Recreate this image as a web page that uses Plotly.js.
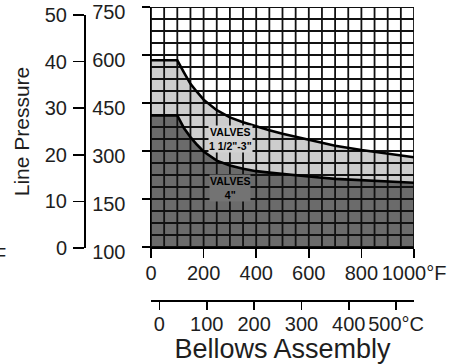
<!DOCTYPE html>
<html>
<head>
<meta charset="utf-8">
<script src="https://cdn.plot.ly/plotly-3.0.1.min.js"></script>
<style>html,body{margin:0;padding:0;background:#fff;}#chart{width:455px;height:364px;}</style>
</head>
<body>
<div id="chart"></div>
<script>
// Temperature (°F) sample points along the two limit curves
const tempF = [0, 100, 125, 150, 175, 200, 250, 300, 350, 400, 450, 500, 600, 700, 800, 900, 1000];
// Line pressure limit, valves 1 1/2"-3"
const pressureSmall = [38.9, 38.9, 36.4, 34.0, 32.3, 30.7, 28.5, 27.0, 26.0, 25.1, 24.3, 23.6, 22.4, 21.1, 20.2, 19.4, 18.7];
// Line pressure limit, valves 4"
const pressureLarge = [27.4, 27.4, 24.8, 22.9, 21.3, 19.9, 18.0, 17.0, 16.3, 15.8, 15.5, 15.2, 14.7, 14.2, 13.9, 13.6, 13.4];

const pressureTicks = [0, 10, 20, 30, 40, 50];
const outerTickText = ['0', '10', '20', '30', '40', '50'];
const innerTickText = ['100', '150', '300', '450', '600', '750'];
const fTicks = [0, 200, 400, 600, 800, 1000];
const fTickText = ['0', '200', '400', '600', '800', '1000°F'];
const cTicks = [0, 100, 200, 300, 400, 500];
const cTickText = ['0', '100', '200', '300', '400', '500°C'];

const labelSmall = 'VALVES<br>1 1/2"-3"';
const labelLarge = 'VALVES<br>4"';

const F_MIN = 0, F_MAX = 1000, P_MIN = 0, P_MAX = 50;
const GRID_DX = 50, GRID_DY = 2.5;

const gx = [], gy = [];
for (let t = F_MIN; t <= F_MAX + 1e-9; t += GRID_DX) { gx.push(t, t, null); gy.push(P_MIN, P_MAX, null); }
for (let p = P_MIN; p <= P_MAX + 1e-9; p += GRID_DY) { gx.push(F_MIN, F_MAX, null); gy.push(p, p, null); }

const toC = f => (f - 32) / 1.8;

const FONT = 'Liberation Sans, Arial, sans-serif';
const TXT = '#1e1e1e';
const H = 357; // paper height (364 - top margin)

const traces = [
  {x: tempF, y: pressureSmall, mode: 'lines', fill: 'tozeroy', fillcolor: '#cdcdcd',
   line: {width: 0, color: '#cdcdcd'}, hoverinfo: 'skip', showlegend: false},
  {x: tempF, y: pressureLarge, mode: 'lines', fill: 'tozeroy', fillcolor: '#6b6b6b',
   line: {width: 0, color: '#6b6b6b'}, hoverinfo: 'skip', showlegend: false},
  {x: gx, y: gy, mode: 'lines', line: {color: '#111', width: 1.8}, hoverinfo: 'skip', showlegend: false},
  {x: tempF, y: pressureSmall, mode: 'lines', line: {color: '#000', width: 2.6}, hoverinfo: 'skip', showlegend: false},
  {x: tempF, y: pressureLarge, mode: 'lines', line: {color: '#000', width: 2.6}, hoverinfo: 'skip', showlegend: false},
  {x: [F_MIN, F_MAX], y: [P_MIN, P_MAX], xaxis: 'x', yaxis: 'y2', mode: 'markers',
   marker: {opacity: 0}, hoverinfo: 'skip', showlegend: false},
  {x: [toC(F_MIN), toC(F_MAX)], y: [P_MIN, P_MAX], xaxis: 'x2', yaxis: 'y', mode: 'markers',
   marker: {opacity: 0}, hoverinfo: 'skip', showlegend: false}
];

const layout = {
  width: 455, height: 364,
  margin: {l: 0, r: 41, t: 7, b: 0},
  paper_bgcolor: '#fff', plot_bgcolor: 'rgba(0,0,0,0)',
  font: {family: FONT, color: TXT, size: 20},
  showlegend: false,
  xaxis: {
    domain: [151 / 414, 1], range: [F_MIN, F_MAX],
    tickvals: fTicks, ticktext: fTickText,
    showgrid: false, zeroline: false,
    showline: true, linecolor: '#000', linewidth: 1.5,
    ticks: 'outside', ticklen: 9, tickwidth: 1.5, tickcolor: '#000',
    ticklabeloverflow: 'allow', ticklabelstandoff: -2,
    tickfont: {size: 20, color: TXT}
  },
  xaxis2: {
    overlaying: 'x', anchor: 'free', position: 64 / H, side: 'bottom',
    range: [toC(F_MIN), toC(F_MAX)],
    tickvals: cTicks, ticktext: cTickText,
    showgrid: false, zeroline: false,
    showline: true, linecolor: '#000', linewidth: 1.5,
    ticks: 'outside', ticklen: 8, tickwidth: 1.5, tickcolor: '#000',
    ticklabeloverflow: 'allow', ticklabelstandoff: -3,
    tickfont: {size: 20, color: TXT},
    title: {text: 'Bellows Assembly', font: {size: 27, color: TXT}, standoff: 2}
  },
  yaxis: {
    domain: [117 / H, 1], range: [P_MIN, P_MAX],
    tickvals: pressureTicks, ticktext: innerTickText,
    showgrid: false, zeroline: false,
    showline: true, linecolor: '#000', linewidth: 1.5,
    ticks: 'outside', ticklen: 8, tickwidth: 1.5, tickcolor: '#000',
    ticklabeloverflow: 'allow', ticklabelstandoff: 12, ticklabelshift: 5,
    tickfont: {size: 20, color: TXT}
  },
  yaxis2: {
    domain: [(364 - 248) / H, (364 - 15) / H],
    anchor: 'free', position: 84 / 414, side: 'left',
    range: [P_MIN, P_MAX],
    tickvals: pressureTicks, ticktext: outerTickText,
    showgrid: false, zeroline: false,
    showline: true, linecolor: '#000', linewidth: 1.5,
    ticks: 'outside', ticklen: 11, tickwidth: 1.5, tickcolor: '#000',
    ticklabeloverflow: 'allow', ticklabelstandoff: 2,
    tickfont: {size: 20, color: TXT},
    title: {text: 'Line Pressure', font: {size: 21, color: TXT}, standoff: 8}
  },
  annotations: [
    {x: 303, y: 22.6, xref: 'x', yref: 'y', text: '<b>' + labelSmall + '</b>', showarrow: false,
     font: {size: 10.5, color: '#000', family: FONT}, bgcolor: '#d2d2d2', borderpad: 0},
    {x: 300, y: 12.3, xref: 'x', yref: 'y', text: '<b>' + labelLarge + '</b>', showarrow: false,
     font: {size: 10.5, color: '#000', family: FONT}, bgcolor: '#737373', borderpad: 0},
    {x: 0, y: 96 / H, xref: 'paper', yref: 'paper', text: '°F', showarrow: false,
     xanchor: 'right', xshift: 8, font: {size: 20, color: TXT}}
  ]
};

Plotly.newPlot('chart', traces, layout, {displayModeBar: false, staticPlot: true});
</script>
</body>
</html>
